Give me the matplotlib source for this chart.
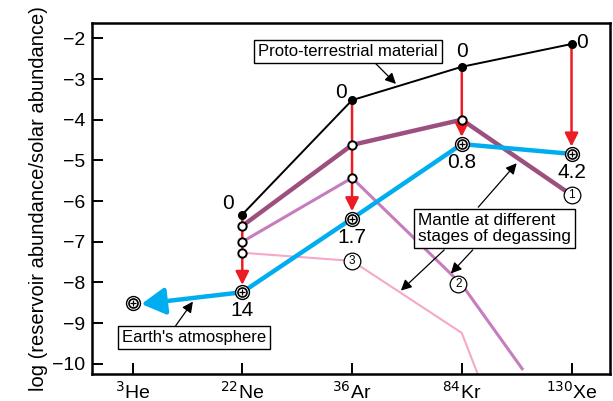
import matplotlib.pyplot as plt
import numpy as np

plt.rcParams['font.family'] = ['Liberation Sans', 'DejaVu Sans']

isotopes = ['$^{3}$He', '$^{22}$Ne', '$^{36}$Ar', '$^{84}$Kr', '$^{130}$Xe']

# proto-terrestrial material (Ne, Ar, Kr, Xe)
proto_x = [1, 2, 3, 4]
proto_y = [-6.33, -3.52, -2.70, -2.14]

# mantle at different stages of degassing
m1_x = [1, 2, 3, 4]
m1_y = [-6.61, -4.62, -4.00, -5.85]
m2_x = [1, 2, 3, 3.55]
m2_y = [-7.00, -5.43, -8.05, -10.12]
m3_x = [1, 2, 3, 3.145]
m3_y = [-7.27, -7.47, -9.24, -10.25]

# Earth's atmosphere
atm_x = [0, 1, 2, 3, 4]
atm_y = [-8.50, -8.24, -6.43, -4.60, -4.84]
atm_lbl = ['', '14', '1.7', '0.8', '4.2']

red = '#ec1c24'
cyan = '#00aeef'
c1 = '#9c5080'
c2 = '#c67dbd'
c3 = '#f5a8c9'

fig = plt.figure(figsize=(6.13, 4.01), dpi=100)
ax = fig.add_axes([0.150, 0.0673, 0.845, 0.8757])
ax.set_xlim(-0.37, 4.35)
ax.set_ylim(-10.25, -1.62)

# mantle lines
ax.plot(m3_x, m3_y, color=c3, lw=1.5, zorder=2)
ax.plot(m2_x, m2_y, color=c2, lw=2.2, zorder=2)
ax.plot(m1_x, m1_y, color=c1, lw=3.2, zorder=2)

# proto-terrestrial line
ax.plot(proto_x, proto_y, color='black', lw=1.4, zorder=3)

# red degassing arrows
for x, y0, y1 in zip(proto_x, proto_y, atm_y[1:]):
    ax.annotate('', xy=(x, y1 + 0.18), xytext=(x, y0),
                arrowprops=dict(arrowstyle='-|>', color=red, lw=1.8,
                                mutation_scale=20, shrinkA=0, shrinkB=0),
                zorder=4)

# Earth's atmosphere line
ax.plot(atm_x[1:], atm_y[1:], color=cyan, lw=3.2, zorder=5, solid_capstyle='butt')
ax.annotate('', xy=(atm_x[0] + 0.08, atm_y[0] - 0.03), xytext=(atm_x[1], atm_y[1]),
            arrowprops=dict(arrowstyle='-|>,head_length=0.8,head_width=0.45',
                            color=cyan, lw=3.2, mutation_scale=18,
                            shrinkA=0, shrinkB=0), zorder=5)

# open circles on mantle lines
open_x = [m1_x[0], m2_x[0], m3_x[0], m1_x[1], m2_x[1], m1_x[2]]
open_y = [m1_y[0], m2_y[0], m3_y[0], m1_y[1], m2_y[1], m1_y[2]]
ax.plot(open_x, open_y, 'o', ms=6, mfc='white', mec='black', mew=1.4, zorder=6)

# proto dots
ax.plot(proto_x, proto_y, 'o', ms=5.5, color='black', zorder=6)

# atmosphere markers
ax.plot(atm_x, atm_y, 'o', ms=10, mfc='white', mec='black', mew=1.0, zorder=7)
ax.plot(atm_x, atm_y, 'o', ms=6.5, mfc='white', mec='black', mew=1.2, zorder=7)
ax.plot(atm_x, atm_y, '+', ms=4.5, color='black', mew=0.9, zorder=7)

# circled numbers
circ = [(m1_x[3], m1_y[3], '1'), (m2_x[2] - 0.03, m2_y[2], '2'), (m3_x[1], m3_y[1], '3')]
for x, y, t in circ:
    ax.plot(x, y, 'o', ms=12, mfc='white', mec='black', mew=0.9, zorder=7)
    ax.text(x, y, t, ha='center', va='center', fontsize=8.5, zorder=8)

# value labels
ax.text(0.87, -6.05, '0', ha='center', va='center', fontsize=15)
ax.text(1.9, -3.32, '0', ha='center', va='center', fontsize=15)
ax.text(3.0, -2.33, '0', ha='center', va='center', fontsize=15)
ax.text(4.1, -2.1, '0', ha='center', va='center', fontsize=15)
for x, y, t in zip(atm_x, atm_y, atm_lbl):
    if t:
        ax.text(x, y - 0.46, t, ha='center', va='center', fontsize=15)

box = dict(boxstyle='square,pad=0.25', fc='white', ec='black', lw=1.0)

# annotation boxes
ax.annotate('Proto-terrestrial material', xy=(2.40, -3.12), xytext=(1.96, -2.32),
            ha='center', va='center', fontsize=12, bbox=box,
            arrowprops=dict(arrowstyle='-|>', color='black', lw=0.9,
                            mutation_scale=16, shrinkA=0, shrinkB=0,
                            relpos=(0.63, 0)), zorder=9)
ax.annotate("Earth's atmosphere", xy=(0.55, -8.47), xytext=(0.56, -9.36),
            ha='center', va='center', fontsize=12, bbox=box,
            arrowprops=dict(arrowstyle='-|>', color='black', lw=0.9,
                            mutation_scale=16, shrinkA=0, shrinkB=0,
                            relpos=(0.35, 1)), zorder=9)
ax.text(2.6, -6.68, 'Mantle at different\nstages of degassing', ha='left', va='center',
        fontsize=12.3, linespacing=1.05, bbox=box, zorder=9)
for tail, tip in [((3.15, -6.15), (3.50, -5.07)),
                  ((2.84, -7.2), (2.445, -8.2)),
                  ((3.1, -7.2), (2.9, -7.78))]:
    ax.annotate('', xy=tip, xytext=tail,
                arrowprops=dict(arrowstyle='-|>', color='black', lw=0.9,
                                mutation_scale=16, shrinkA=0, shrinkB=0), zorder=8)

ax.set_xticks(range(len(isotopes)))
ax.set_xticklabels(isotopes, fontsize=14)
ax.set_yticks(np.arange(-10, -1, 1))
ax.set_yticklabels(['\u2212%d' % v for v in range(10, 1, -1)], fontsize=14)
ax.tick_params(direction='in', length=8, width=1.4, pad=5)
ax.set_ylabel('log (reservoir abundance/solar abundance)', fontsize=14.5, labelpad=3)
for s in ax.spines.values():
    s.set_linewidth(1.8)

fig.savefig('out.png', dpi=100)
